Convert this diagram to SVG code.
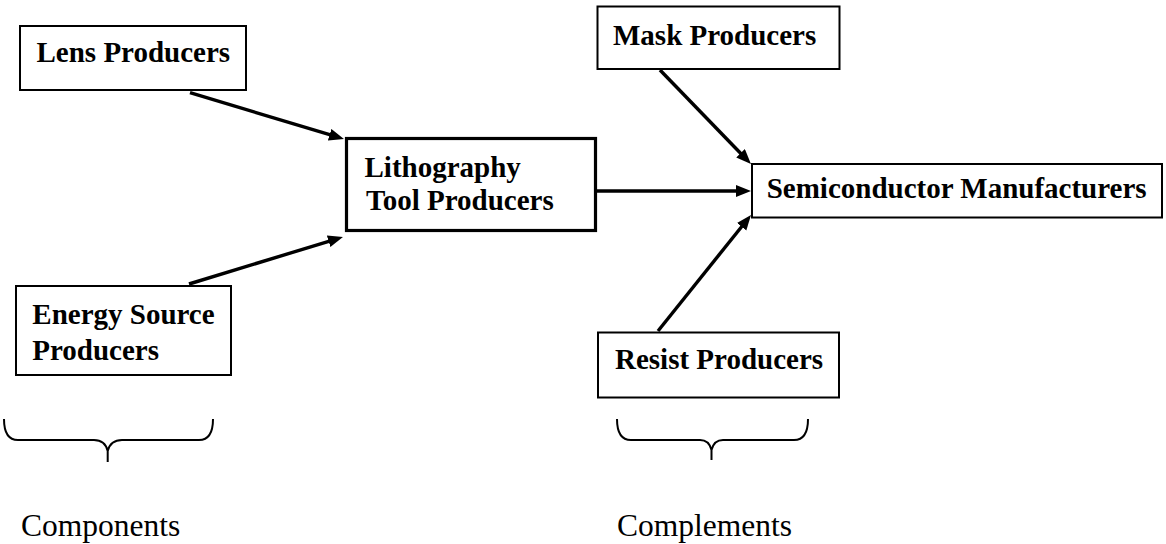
<svg xmlns="http://www.w3.org/2000/svg" width="1166" height="544" viewBox="0 0 1166 544">
<style>
.box{fill:#fff;stroke:#000;stroke-width:2}
.thick{stroke-width:3.2}
.lbl{font-family:"Liberation Serif","Times New Roman",serif;font-weight:bold;font-size:29px;fill:#000}
.cap{font-family:"Liberation Serif","Times New Roman",serif;font-size:31.5px;fill:#000}
.conn{stroke:#000;stroke-width:3.4;fill:none;marker-end:url(#ah)}
.brace{stroke:#000;stroke-width:2;fill:none}
</style>
<defs>
<marker id="ah" markerUnits="userSpaceOnUse" markerWidth="18" markerHeight="14" refX="7" refY="6" orient="auto">
<path d="M0,0 L15,6 L0,12 z" fill="#000"/>
</marker>
</defs>
<rect width="1166" height="544" fill="#fff"/>
<g id="connectors">
<line class="conn" x1="190" y1="92.7" x2="336.3" y2="136.7"/>
<line class="conn" x1="189" y1="284" x2="335.3" y2="239.3"/>
<line class="conn" x1="597" y1="191" x2="743" y2="191"/>
<line class="conn" x1="660" y1="70" x2="745.4" y2="158.3"/>
<line class="conn" x1="658" y1="331" x2="746" y2="221.2"/>
</g>
<g id="lens">
<rect class="box" x="20" y="26" width="226" height="64"/>
<text class="lbl" x="36.5" y="61.7">Lens Producers</text>
</g>
<g id="energy">
<rect class="box" x="16" y="286" width="215" height="89"/>
<text class="lbl" x="32.3" y="324">Energy Source</text>
<text class="lbl" x="32.3" y="360">Producers</text>
</g>
<g id="litho">
<rect class="box thick" x="346.5" y="138.5" width="249" height="92"/>
<text class="lbl" x="364.5" y="176.7">Lithography</text>
<text class="lbl" x="366" y="210">Tool Producers</text>
</g>
<g id="mask">
<rect class="box" x="597.5" y="6.5" width="242" height="62.5"/>
<text class="lbl" x="613" y="45">Mask Producers</text>
</g>
<g id="semi">
<rect class="box" x="752" y="164" width="410" height="53.5"/>
<text class="lbl" x="766.7" y="197.7">Semiconductor Manufacturers</text>
</g>
<g id="resist">
<rect class="box" x="598" y="332.5" width="241" height="65"/>
<text class="lbl" x="615" y="369.3">Resist Producers</text>
</g>
<g id="components">
<path class="brace" d="M4,419 C4,433 8,440 18,440 L94,440 C102,440 106,444 107.7,451 L107.7,462 M107.7,451 C109.5,444 114,440 122,440 L199,440 C209,440 213,433 213,419"/>
<text class="cap" x="21" y="536">Components</text>
</g>
<g id="complements">
<path class="brace" d="M617,419 C617,433 621,440 631,440 L700,440 C706,440 710,444 711.5,450 L711.5,460 M711.5,450 C713,444 717,440 723,440 L794,440 C804,440 808,433 808,419"/>
<text class="cap" x="617" y="536">Complements</text>
</g>
</svg>
